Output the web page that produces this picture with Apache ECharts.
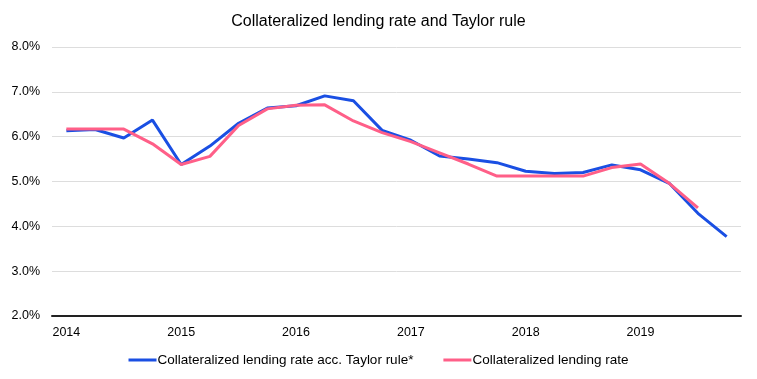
<!DOCTYPE html>
<html><head><meta charset="utf-8">
<script src="https://cdn.jsdelivr.net/npm/echarts@6/dist/echarts.min.js"></script>
<style>html,body{margin:0;padding:0;background:#fff}#c{width:757px;height:379px}</style>
</head><body><div id="c"></div>
<script>
const quarters = ["2014Q1","2014Q2","2014Q3","2014Q4","2015Q1","2015Q2","2015Q3","2015Q4","2016Q1","2016Q2","2016Q3","2016Q4","2017Q1","2017Q2","2017Q3","2017Q4","2018Q1","2018Q2","2018Q3","2018Q4","2019Q1","2019Q2","2019Q3","2019Q4"];
const taylorRule = [6.13,6.16,5.97,6.37,5.38,5.79,6.30,6.64,6.69,6.91,6.80,6.14,5.92,5.57,5.50,5.42,5.23,5.18,5.20,5.37,5.26,4.96,4.29,3.77];
const lendingRate = [6.17,6.17,6.17,5.84,5.38,5.56,6.25,6.62,6.70,6.71,6.35,6.09,5.89,5.64,5.39,5.12,5.12,5.12,5.12,5.31,5.39,4.96,4.41,null];
const yTicks = [2,3,4,5,6,7,8];
const seriesNames = ["Collateralized lending rate acc. Taylor rule*","Collateralized lending rate"];

const chart = echarts.init(document.getElementById('c'));
chart.setOption({
  animation:false,
  textStyle:{fontFamily:'"Liberation Sans", Arial, sans-serif'},
  title:{text:'Collateralized lending rate and Taylor rule',left:'center',top:9,
    textStyle:{fontSize:16,fontWeight:'normal',color:'#000',fontFamily:'"Liberation Sans", Arial, sans-serif'}},
  grid:{left:52,right:16,top:47,bottom:63,containLabel:false},
  legend:{bottom:7,left:'center',itemWidth:28,itemHeight:3,itemGap:30,icon:'rect',
    textStyle:{fontSize:13.5,color:'#000',padding:[0,0,0,-4]},
    data:seriesNames},
  xAxis:{type:'category',data:quarters,boundaryGap:true,
    axisLine:{lineStyle:{color:'#222',width:2}},
    axisTick:{show:false},
    axisLabel:{interval:3,color:'#000',fontSize:12.5,margin:10,formatter:v=>v.slice(0,4)},
    splitLine:{show:false}},
  yAxis:{type:'value',min:yTicks[0],max:yTicks[yTicks.length-1],interval:1,
    axisLine:{show:false},axisTick:{show:false},
    axisLabel:{color:'#000',fontSize:12.5,margin:12,formatter:v=>v.toFixed(1)+'%'},
    splitLine:{lineStyle:{color:'#dddddd',width:1}}},
  series:[
    {name:seriesNames[0],type:'line',data:taylorRule,symbol:'none',
      lineStyle:{width:3,color:'#1a4fe3'},itemStyle:{color:'#1a4fe3'},z:2},
    {name:seriesNames[1],type:'line',data:lendingRate,symbol:'none',
      lineStyle:{width:3,color:'#ff5f88'},itemStyle:{color:'#ff5f88'},z:3}
  ]
});
</script></body></html>
